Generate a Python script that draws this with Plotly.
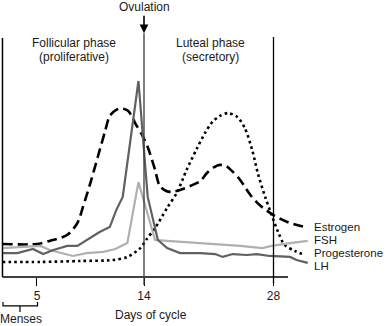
import plotly.graph_objects as go

# Day of the menstrual cycle (schematic axis) and relative hormone level (0-100)
estrogen_day = [-1.3, 2.4, 3.8, 5.7, 6.8, 7.4, 8.2, 9.0, 9.8, 10.3, 11.0, 11.6, 12.3, 13.1,
                13.8, 14.4, 15.2, 15.7, 16.4, 17.0, 17.9, 19.0, 20.1, 20.8, 21.6, 22.2,
                22.9, 23.5, 24.4, 25.5, 26.5, 28.0, 29.5, 31.4]
estrogen_level = [13.8, 13.8, 15.1, 17.6, 22.6, 29.3, 39.3, 50.2, 61.1, 67.4, 69.9, 70.5, 69.5, 64.0,
                  59.4, 54.4, 44.8, 38.1, 36.0, 35.6, 36.4, 38.1, 40.2, 43.5, 46.0, 46.9,
                  46.4, 44.4, 40.6, 34.3, 30.1, 25.9, 23.0, 20.9]

progesterone_day = [-1.3, 2.8, 7.1, 10.6, 12.2, 13.6, 14.3, 15.2, 16.5, 17.6, 18.6, 19.7, 20.6,
                    21.4, 22.2, 23.1, 24.1, 24.9, 25.7, 26.3, 27.1, 27.8, 28.5, 29.2, 30.3, 31.4]
progesterone_level = [6.3, 6.3, 6.7, 7.1, 8.4, 12.1, 15.9, 20.5, 28.9, 35.6, 44.8, 53.6, 60.3,
                      64.9, 67.4, 68.6, 66.9, 62.3, 53.1, 43.5, 33.5, 25.9, 18.8, 13.4, 10.9, 9.2]

lh_day = [-1.3, 0.3, 2.0, 3.1, 4.2, 5.7, 6.8, 8.2, 9.2, 10.3, 11.0, 11.7, 13.4, 14.4, 15.5,
          16.5, 17.9, 20.1, 21.7, 22.5, 23.6, 25.1, 26.2, 27.6, 29.8, 30.5, 31.7]
lh_level = [10.0, 10.0, 11.7, 9.6, 11.3, 13.0, 13.0, 16.3, 18.8, 20.9, 28.0, 33.5, 82.0, 33.5, 15.5,
            12.1, 10.0, 10.0, 9.6, 8.4, 9.6, 9.2, 9.6, 8.8, 8.4, 7.1, 5.9]

fsh_day = [-1.3, 0.6, 2.8, 3.8, 5.1, 6.3, 7.8, 9.6, 10.9, 12.2, 13.4, 15.2, 16.5, 20.1,
           22.5, 24.4, 26.8, 27.8, 29.8, 31.7]
fsh_level = [12.1, 12.6, 13.0, 11.3, 10.0, 8.8, 10.0, 10.5, 11.7, 14.2, 39.7, 15.5, 15.1, 14.2,
             13.4, 13.0, 12.1, 13.0, 14.2, 15.1]

tick_days = [2.43, 14, 28]
tick_labels = ["5", "14", "28"]

series_names = ["Estrogen", "FSH", "Progesterone", "LH"]
label_levels = [21.1, 15.6, 10.1, 4.6]

FONT = "Liberation Sans, Arial, Helvetica, sans-serif"

fig = go.Figure()

fig.add_trace(go.Scatter(x=estrogen_day, y=estrogen_level, mode="lines",
                         line=dict(color="black", width=2.6, dash="10px,5px",
                                   shape="spline", smoothing=0.8)))
fig.add_trace(go.Scatter(x=progesterone_day, y=progesterone_level, mode="lines",
                         line=dict(color="black", width=2.6, dash="2.6px,3.2px",
                                   shape="spline", smoothing=0.8)))
fig.add_trace(go.Scatter(x=fsh_day, y=fsh_level, mode="lines",
                         line=dict(color="#b0b0b0", width=2.2)))
fig.add_trace(go.Scatter(x=lh_day, y=lh_level, mode="lines",
                         line=dict(color="#606060", width=2.2)))

shapes = [
    # axis frame
    dict(type="line", x0=-1.3, x1=-1.3, y0=0, y1=100, line=dict(color="black", width=1.5)),
    dict(type="line", x0=-1.3, x1=29.57, y0=0, y1=0, line=dict(color="black", width=1.5)),
    # ovulation and end-of-cycle markers
    dict(type="line", x0=14, x1=14, y0=-3.3, y1=102, line=dict(color="#3a3a3a", width=1.3)),
    dict(type="line", x0=28, x1=28, y0=-2.5, y1=100.4, line=dict(color="black", width=1.3)),
    # menses bracket
    dict(type="path", path="M -1.24,-10.5 L -1.24,-12.1 L 2.49,-12.1 L 2.49,-10.5",
         line=dict(color="black", width=1.2)),
    dict(type="line", x0=0.59, x1=0.59, y0=-12.1, y1=-14.6, line=dict(color="black", width=1.2)),
]

annotations = [
    dict(x=14, y=102, text="Ovulation", showarrow=True, ax=0, ay=-26,
         arrowhead=2, arrowsize=1.1, arrowwidth=1.6, arrowcolor="black"),
    dict(x=6.43, y=(277 - 43) / 2.39, text="Follicular phase", showarrow=False),
    dict(x=6.43, y=(277 - 57) / 2.39, text="(proliferative)", showarrow=False),
    dict(x=21.19, y=(277 - 43) / 2.39, text="Luteal phase", showarrow=False),
    dict(x=21.19, y=(277 - 57) / 2.39, text="(secretory)", showarrow=False),
    dict(x=14.76, y=-15.9, text="Days of cycle", showarrow=False),
    dict(x=0.7, y=-17.6, text="Menses", showarrow=False),
]
for a in annotations:
    a["font"] = dict(family=FONT, size=12, color="#1a1a1a")

# end-of-line series labels
for name, lvl in zip(series_names, label_levels):
    annotations.append(dict(x=32.27, y=lvl, text=name, showarrow=False, xanchor="left",
                            borderpad=0, font=dict(family=FONT, size=11.5, color="#1a1a1a")))

for a in annotations:
    a.update(xref="x", yref="y")

fig.update_layout(
    width=386, height=326,
    margin=dict(l=0, r=0, t=0, b=0),
    paper_bgcolor="white", plot_bgcolor="white",
    showlegend=False,
    shapes=shapes,
    annotations=annotations,
    xaxis=dict(range=[-1.568, 40.162], showgrid=False, zeroline=False, showline=False,
               ticks="outside", ticklen=8, tickwidth=1.2, tickcolor="black",
               tickvals=tick_days, ticktext=tick_labels,
               tickfont=dict(family=FONT, size=12, color="#1a1a1a"),
               anchor="free", position=(326 - 277) / 326, fixedrange=True),
    yaxis=dict(range=[-20.5, 115.9], visible=False, fixedrange=True),
)

fig.write_html("out.html")
